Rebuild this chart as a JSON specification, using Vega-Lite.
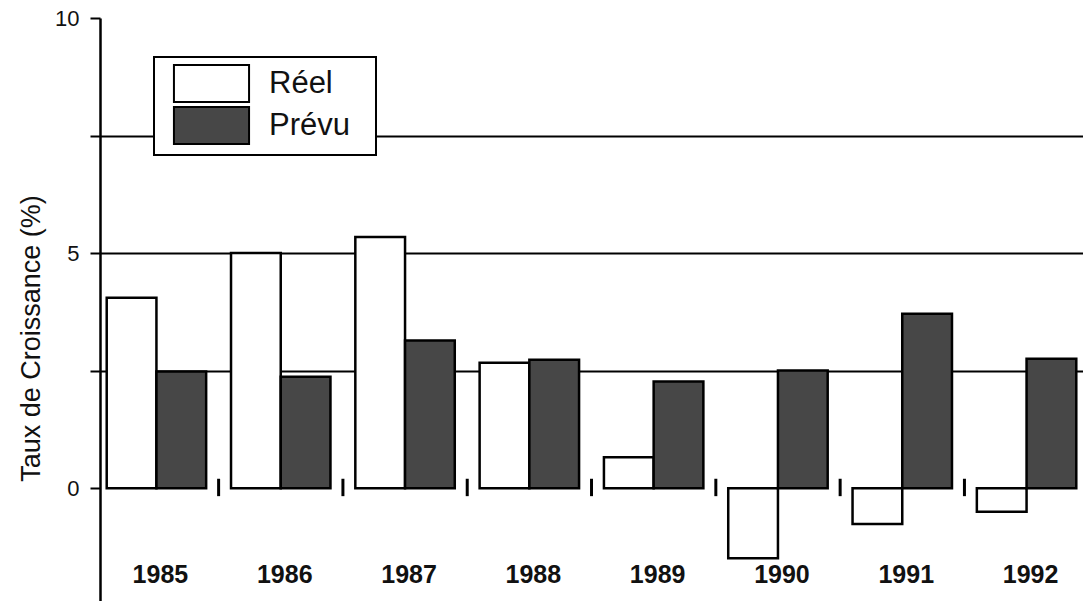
{
  "$schema": "https://vega.github.io/schema/vega-lite/v6.json",
  "width": 983,
  "height": 583,
  "padding": {"left": 100, "top": 18, "right": 0, "bottom": 0},
  "autosize": {"type": "none"},
  "background": "white",
  "config": {"view": {"stroke": null}, "font": "Liberation Sans"},
  "data": {
    "values": [
      {"year": "1985", "series": "Réel", "value": 4.05},
      {"year": "1985", "series": "Prévu", "value": 2.48},
      {"year": "1986", "series": "Réel", "value": 5.0},
      {"year": "1986", "series": "Prévu", "value": 2.37},
      {"year": "1987", "series": "Réel", "value": 5.34},
      {"year": "1987", "series": "Prévu", "value": 3.14},
      {"year": "1988", "series": "Réel", "value": 2.67},
      {"year": "1988", "series": "Prévu", "value": 2.73},
      {"year": "1989", "series": "Réel", "value": 0.66},
      {"year": "1989", "series": "Prévu", "value": 2.27},
      {"year": "1990", "series": "Réel", "value": -1.49},
      {"year": "1990", "series": "Prévu", "value": 2.5},
      {"year": "1991", "series": "Réel", "value": -0.76},
      {"year": "1991", "series": "Prévu", "value": 3.71},
      {"year": "1992", "series": "Réel", "value": -0.5},
      {"year": "1992", "series": "Prévu", "value": 2.75}
    ]
  },
  "encoding": {
    "x": {
      "field": "year",
      "type": "nominal",
      "scale": {"paddingInner": 0.2, "paddingOuter": 0.054},
      "axis": {
        "orient": "bottom",
        "offset": -39,
        "domain": false,
        "ticks": false,
        "grid": false,
        "title": null,
        "labelAngle": 0,
        "labelFont": "Liberation Sans",
        "labelFontWeight": "bold",
        "labelFontSize": 25,
        "labelColor": "#111111",
        "labelPadding": 0,
        "labelOffset": 4
      }
    }
  },
  "layer": [
    {
      "mark": {"type": "bar", "stroke": "#000000", "strokeWidth": 2.5},
      "encoding": {
        "xOffset": {
          "field": "series",
          "type": "nominal",
          "sort": ["Réel", "Prévu"],
          "scale": {"paddingInner": 0, "paddingOuter": 0}
        },
        "y": {
          "field": "value",
          "type": "quantitative",
          "scale": {"domain": [-2.4, 10], "nice": false, "zero": false},
          "axis": {
            "values": [0, 2.5, 5, 7.5, 10],
            "labelExpr": "datum.value % 5 == 0 ? datum.label : ''",
            "grid": true,
            "gridColor": "#000000",
            "gridWidth": 2,
            "gridOpacity": {"condition": {"test": "datum.value == 10 || datum.value == 0", "value": 0}, "value": 1},
            "domain": true,
            "domainColor": "#000000",
            "domainWidth": 2.5,
            "tickColor": "#000000",
            "tickWidth": 2,
            "tickSize": 10,
            "labelFontSize": 22,
            "labelColor": "#111111",
            "labelPadding": 11,
            "title": "Taux de Croissance (%)",
            "titleFontSize": 27,
            "titleFontWeight": "normal",
            "titleColor": "#111111",
            "titleX": -61,
            "titleY": 320,
            "titleBaseline": "alphabetic",
            "titleAlign": "center",
            "titleAngle": -90
          }
        },
        "color": {
          "field": "series",
          "type": "nominal",
          "scale": {"domain": ["Réel", "Prévu"], "range": ["#ffffff", "#474747"]},
          "legend": {
            "title": " ",
            "titleOrient": "right",
            "titleFontSize": 12,
            "titlePadding": 19,
            "orient": "none",
            "legendX": 54,
            "legendY": 39,
            "fillColor": "#ffffff",
            "strokeColor": "#000000",
            "padding": 7,
            "symbolType": "M-2.03,-1H2.03V1H-2.03Z",
            "symbolSize": 1369,
            "symbolStrokeColor": "#000000",
            "symbolStrokeWidth": 2,
            "symbolOffset": 31,
            "symbolOpacity": 1,
            "labelFont": "Liberation Sans",
            "labelFontSize": 31,
            "labelColor": "#111111",
            "labelOffset": 38,
            "rowPadding": -4,
            "encode": {"legend": {"update": {"strokeWidth": {"value": 2}}}}
          }
        }
      }
    },
    {
      "mark": {"type": "rule", "color": "#000000", "strokeWidth": 3},
      "encoding": {"y": {"datum": 0, "type": "quantitative"}}
    },
    {
      "transform": [{"filter": "datum.series == 'Réel' && datum.year != '1985'"}],
      "mark": {"type": "rule", "color": "#000000", "strokeWidth": 3, "xOffset": -12.4},
      "encoding": {
        "x": {"field": "year", "type": "nominal", "bandPosition": 0},
        "y": {"datum": 0.2, "type": "quantitative"},
        "y2": {"datum": -0.17}
      }
    }
  ]
}
